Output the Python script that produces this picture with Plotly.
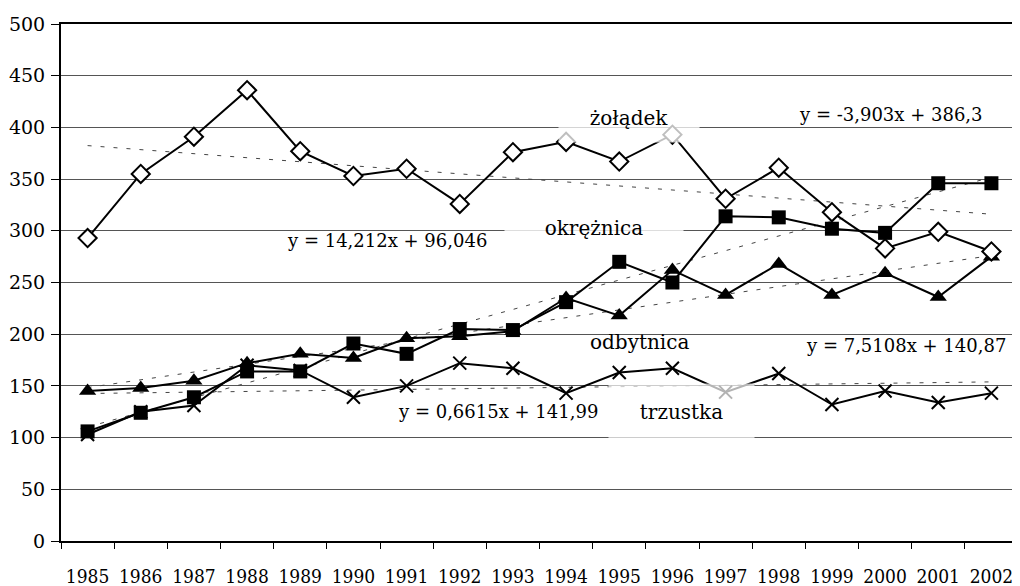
import plotly.graph_objects as go

years = ["1985", "1986", "1987", "1988", "1989", "1990", "1991", "1992", "1993",
         "1994", "1995", "1996", "1997", "1998", "1999", "2000", "2001", "2002"]

zoladek = [293, 355, 391, 436, 377, 353, 360, 326, 376, 386, 367, 393, 331, 361, 318, 283, 299, 280]
okreznica = [106, 124, 139, 164, 164, 191, 181, 205, 204, 231, 270, 250, 314, 313, 302, 298, 346, 346]
odbytnica = [145, 148, 155, 172, 181, 177, 196, 198, 203, 235, 218, 262, 238, 268, 238, 259, 236, 275]
trzustka = [103, 125, 131, 170, 165, 139, 150, 172, 167, 143, 163, 167, 144, 162, 132, 145, 134, 143]

# trend line coefficients as printed on the chart (y = a*x + b, x = 1..18)
trend_slope = [-3.903, 14.212, 7.5108, 0.6615]
trend_intercept = [386.3, 96.046, 140.87, 141.99]

y_ticks = [0, 50, 100, 150, 200, 250, 300, 350, 400, 450, 500]

FONT = "DejaVu Serif"
FONT_C = "DejaVu Serif Condensed, DejaVu Serif"

fig = go.Figure()

# trend lines
for a, b in zip(trend_slope, trend_intercept):
    fig.add_trace(go.Scatter(
        x=years, y=[a * (i + 1) + b for i in range(len(years))],
        mode="lines", line=dict(color="#444444", width=1, dash="4px,9px"),
        hoverinfo="skip", showlegend=False))

series = [
    (trzustka, dict(symbol="x-thin", size=13, color="black", line=dict(color="black", width=2))),
    (odbytnica, dict(symbol="triangle-up", size=15, color="black", line=dict(color="black", width=0))),
    (okreznica, dict(symbol="square", size=14, color="black", line=dict(color="black", width=0))),
    (zoladek, dict(symbol="diamond", size=14, color="white", line=dict(color="black", width=2))),
]
for vals, mk in series:
    fig.add_trace(go.Scatter(
        x=years, y=vals, mode="lines+markers",
        line=dict(color="black", width=2), marker=mk, showlegend=False))

labels = [
    ("żołądek", 10.19, 409, 138, 46, "rgba(255,255,255,0.75)", 20),
    ("y = -3,903x + 386,3", 15.12, 412, None, None, None, 18),
    ("okrężnica", 9.53, 303, 176, 47, "rgba(255,255,255,0.8)", 20),
    ("y = 14,212x + 96,046", 5.63, 291, None, None, None, 18),
    ("odbytnica", 10.38, 192.5, None, None, None, 20),
    ("y = 7,5108x + 140,87", 15.4, 189.5, None, None, None, 18),
    ("y = 0,6615x + 141,99", 7.71, 125, None, None, None, 18),
    ("trzustka", 11.17, 125, 143, 53, "rgba(255,255,255,0.7)", 20),
]
for txt, x, y, w, h, bg, fs in labels:
    kw = dict(x=x, y=y, xref="x", yref="y", text=txt, showarrow=False,
              font=dict(family=FONT, size=fs, color="black"))
    if w:
        kw.update(width=w, height=h, bgcolor=bg)
    fig.add_annotation(**kw)

fig.update_layout(
    width=1012, height=578,
    margin=dict(l=53, r=2, t=16, b=45),
    paper_bgcolor="white", plot_bgcolor="white",
    font=dict(family=FONT, color="black"),
    showlegend=False,
)
fig.update_xaxes(
    type="category", categoryorder="array", categoryarray=years,
    range=[-0.5, 17.5], tickson="boundaries", ticks="outside", ticklen=6,
    tickcolor="black", tickwidth=1, showgrid=False,
    showline=True, linecolor="black", linewidth=2, mirror=True,
    tickangle=0, automargin=False,
    tickfont=dict(family=FONT_C, size=19), ticklabelstandoff=17,
)
fig.update_yaxes(
    range=[0, 500], tickvals=y_ticks, ticks="outside", ticklen=8,
    tickcolor="black", tickwidth=1, showgrid=True, gridcolor="#555555", gridwidth=1,
    showline=True, linecolor="black", linewidth=2, mirror=True, zeroline=False,
    automargin=False,
    tickfont=dict(family=FONT, size=19), ticklabelstandoff=2,
)

fig.write_html("out.html")
